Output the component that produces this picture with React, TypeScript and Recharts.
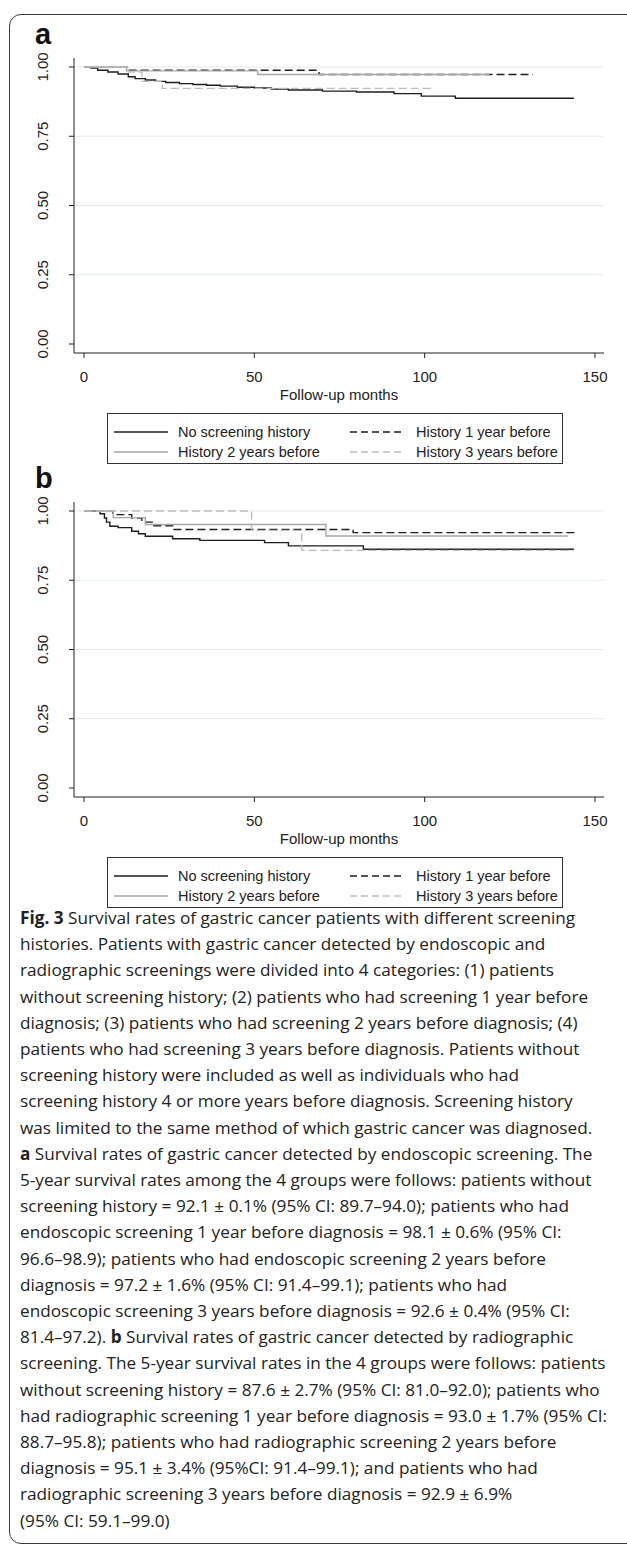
import React from "react";
import { LineChart, Line, XAxis, YAxis, ReferenceLine, Label } from "recharts";

type Pt = { t: number; s: number };

const xTicks = [0, 50, 100, 150];
const yTicks = [0, 0.25, 0.5, 0.75, 1];
const gridValues = [0.25, 0.5, 0.75, 1];

const seriesNames = [
  "No screening history",
  "History 1 year before",
  "History 2 years before",
  "History 3 years before",
];

// a: endoscopic screening (Kaplan-Meier, months -> survival)
const aNone: Pt[] = [
  { t: 0, s: 1 }, { t: 2, s: 0.996 }, { t: 4, s: 0.988 }, { t: 7, s: 0.982 },
  { t: 10, s: 0.975 }, { t: 13, s: 0.965 }, { t: 15, s: 0.958 }, { t: 18, s: 0.953 },
  { t: 21, s: 0.948 }, { t: 24, s: 0.944 }, { t: 28, s: 0.94 }, { t: 32, s: 0.937 },
  { t: 36, s: 0.934 }, { t: 40, s: 0.931 }, { t: 45, s: 0.927 }, { t: 50, s: 0.924 },
  { t: 55, s: 0.92 }, { t: 60, s: 0.917 }, { t: 70, s: 0.913 }, { t: 80, s: 0.91 },
  { t: 91, s: 0.904 }, { t: 99, s: 0.895 }, { t: 109, s: 0.887 }, { t: 143.8, s: 0.887 },
];
const aYear1: Pt[] = [
  { t: 0, s: 1 }, { t: 13, s: 0.988 }, { t: 69, s: 0.973 }, { t: 131.8, s: 0.973 },
];
const aYear2: Pt[] = [
  { t: 0, s: 1 }, { t: 12.5, s: 0.986 }, { t: 51, s: 0.973 }, { t: 119, s: 0.973 },
];
const aYear3: Pt[] = [
  { t: 0, s: 1 }, { t: 13, s: 0.982 }, { t: 17, s: 0.948 }, { t: 23, s: 0.923 },
  { t: 102, s: 0.923 },
];

// b: radiographic screening
const bNone: Pt[] = [
  { t: 0, s: 1 }, { t: 4.7, s: 0.99 }, { t: 6, s: 0.975 }, { t: 6.6, s: 0.96 },
  { t: 7.6, s: 0.945 }, { t: 10, s: 0.94 }, { t: 14, s: 0.927 }, { t: 16, s: 0.918 },
  { t: 18, s: 0.909 }, { t: 26, s: 0.9 }, { t: 34, s: 0.894 }, { t: 53, s: 0.886 },
  { t: 60, s: 0.874 }, { t: 82, s: 0.862 }, { t: 143.8, s: 0.862 },
];
const bYear1: Pt[] = [
  { t: 0, s: 1 }, { t: 8.5, s: 0.987 }, { t: 14, s: 0.975 }, { t: 17, s: 0.96 },
  { t: 20, s: 0.947 }, { t: 26, s: 0.933 }, { t: 79, s: 0.922 }, { t: 145, s: 0.922 },
];
const bYear2: Pt[] = [
  { t: 0, s: 1 }, { t: 8.6, s: 0.976 }, { t: 18, s: 0.951 }, { t: 71, s: 0.91 },
  { t: 142, s: 0.91 },
];
const bYear3: Pt[] = [
  { t: 0, s: 1 }, { t: 49.2, s: 0.93 }, { t: 63.9, s: 0.858 }, { t: 143.8, s: 0.858 },
];

const captionLines: React.ReactNode[] = [
  <><b>Fig. 3</b> Survival rates of gastric cancer patients with different screening</>,
  "histories. Patients with gastric cancer detected by endoscopic and",
  "radiographic screenings were divided into 4 categories: (1) patients",
  "without screening history; (2) patients who had screening 1 year before",
  "diagnosis; (3) patients who had screening 2 years before diagnosis; (4)",
  "patients who had screening 3 years before diagnosis. Patients without",
  "screening history were included as well as individuals who had",
  "screening history 4 or more years before diagnosis. Screening history",
  "was limited to the same method of which gastric cancer was diagnosed.",
  <><b>a</b> Survival rates of gastric cancer detected by endoscopic screening. The</>,
  "5-year survival rates among the 4 groups were follows: patients without",
  "screening history = 92.1 ± 0.1% (95% CI: 89.7–94.0); patients who had",
  "endoscopic screening 1 year before diagnosis = 98.1 ± 0.6% (95% CI:",
  "96.6–98.9); patients who had endoscopic screening 2 years before",
  "diagnosis = 97.2 ± 1.6% (95% CI: 91.4–99.1); patients who had",
  "endoscopic screening 3 years before diagnosis = 92.6 ± 0.4% (95% CI:",
  <>81.4–97.2). <b>b</b> Survival rates of gastric cancer detected by radiographic</>,
  "screening. The 5-year survival rates in the 4 groups were follows: patients",
  "without screening history = 87.6 ± 2.7% (95% CI: 81.0–92.0); patients who",
  "had radiographic screening 1 year before diagnosis = 93.0 ± 1.7% (95% CI:",
  "88.7–95.8); patients who had radiographic screening 2 years before",
  "diagnosis = 95.1 ± 3.4% (95%CI: 91.4–99.1); and patients who had",
  "radiographic screening 3 years before diagnosis = 92.9 ± 6.9%",
  "(95% CI: 59.1–99.0)",
];

const AXIS_FONT = "'Liberation Sans', Arial, sans-serif";
const styles = [
  { stroke: "#1e1e1e", dash: undefined },
  { stroke: "#1e1e1e", dash: "8 4" },
  { stroke: "#a6a6a6", dash: undefined },
  { stroke: "#bdbdbd", dash: "8 4" },
];

function YTick(props: any) {
  const { x, y, payload } = props;
  const cx = x - 24;
  return (
    <text
      x={cx}
      y={y}
      dy="0.35em"
      transform={`rotate(-90 ${cx} ${y})`}
      textAnchor="middle"
      fontSize={15}
      fontFamily={AXIS_FONT}
      fill="#222"
    >
      {Number(payload.value).toFixed(2)}
    </text>
  );
}

function Panel({ top, letter, series }: { top: number; letter: string; series: Pt[][] }) {
  return (
    <>
      <div
        style={{
          position: "absolute",
          left: 35,
          top: top + 20,
          fontFamily: AXIS_FONT,
          fontWeight: 700,
          fontSize: 29,
          lineHeight: 1,
          color: "#111",
        }}
      >
        {letter}
      </div>
      <div style={{ position: "absolute", left: 0, top }}>
        <LineChart width={627} height={405} margin={{ top: 58, right: 23, bottom: 0, left: 14 }}>
          <XAxis
            type="number"
            dataKey="t"
            domain={[0, 150]}
            ticks={xTicks}
            padding={{ left: 10, right: 9 }}
            height={52}
            tickSize={5}
            tickMargin={13}
            stroke="#222"
            tick={{ fontSize: 15, fill: "#222", fontFamily: AXIS_FONT }}
            allowDuplicatedCategory={false}
          >
            <Label
              value="Follow-up months"
              position="insideBottom"
              offset={5}
              style={{ fontSize: 15, fill: "#222", fontFamily: AXIS_FONT }}
            />
          </XAxis>
          <YAxis
            type="number"
            dataKey="s"
            domain={[0, 1]}
            ticks={yTicks}
            padding={{ top: 9, bottom: 9 }}
            width={60}
            tickSize={5}
            stroke="#222"
            tick={<YTick />}
          />
          {gridValues.map((v) => (
            <ReferenceLine key={v} y={v} stroke="#e4ebf0" strokeWidth={1} />
          ))}
          {series.map((d, i) => (
            <Line
              key={i}
              data={d}
              dataKey="s"
              type="stepAfter"
              stroke={styles[i].stroke}
              strokeDasharray={styles[i].dash}
              strokeWidth={1.4}
              dot={false}
              activeDot={false}
              isAnimationActive={false}
            />
          ))}
        </LineChart>
      </div>
      <div
        style={{
          position: "absolute",
          left: 107,
          top: top + 413,
          width: 454,
          height: 49,
          border: "1px solid #333",
          fontFamily: AXIS_FONT,
          fontSize: 14.5,
          color: "#222",
        }}
      >
        {seriesNames.map((name, i) => {
          const col = i % 2;
          const row = Math.floor(i / 2);
          const lx = col === 0 ? 6 : 242;
          const ly = row === 0 ? 18 : 38;
          return (
            <div key={name}>
              <svg
                style={{ position: "absolute", left: lx, top: ly - 2 }}
                width={54}
                height={4}
              >
                <line
                  x1={0}
                  x2={54}
                  y1={2}
                  y2={2}
                  stroke={styles[i].stroke}
                  strokeWidth={1.4}
                  strokeDasharray={styles[i].dash ? "7 4" : undefined}
                />
              </svg>
              <div
                style={{
                  position: "absolute",
                  left: lx + (col === 0 ? 64 : 66),
                  top: ly - 9,
                  lineHeight: "18px",
                  whiteSpace: "nowrap",
                }}
              >
                {name}
              </div>
            </div>
          );
        })}
      </div>
    </>
  );
}

export default function App() {
  return (
    <div
      style={{
        position: "absolute",
        left: 0,
        top: 0,
        width: 627,
        height: 1550,
        overflow: "hidden",
        background: "#fff",
      }}
    >
      <div
        style={{
          position: "absolute",
          left: 9,
          top: 14,
          width: 660,
          height: 1530,
          border: "1.5px solid #3a3a3a",
          borderRadius: 12,
          boxSizing: "border-box",
        }}
      />
      <Panel top={0} letter="a" series={[aNone, aYear1, aYear2, aYear3]} />
      <Panel top={444} letter="b" series={[bNone, bYear1, bYear2, bYear3]} />
      <div
        style={{
          position: "absolute",
          left: 20,
          top: 905,
          fontFamily: "'Open Sans', 'Noto Sans', sans-serif",
          fontSize: 17.2,
          lineHeight: "26.2px",
          color: "#222",
        }}
      >
        {captionLines.map((ln, i) => (
          <div key={i} style={{ whiteSpace: "nowrap" }}>
            {ln}
          </div>
        ))}
      </div>
    </div>
  );
}
